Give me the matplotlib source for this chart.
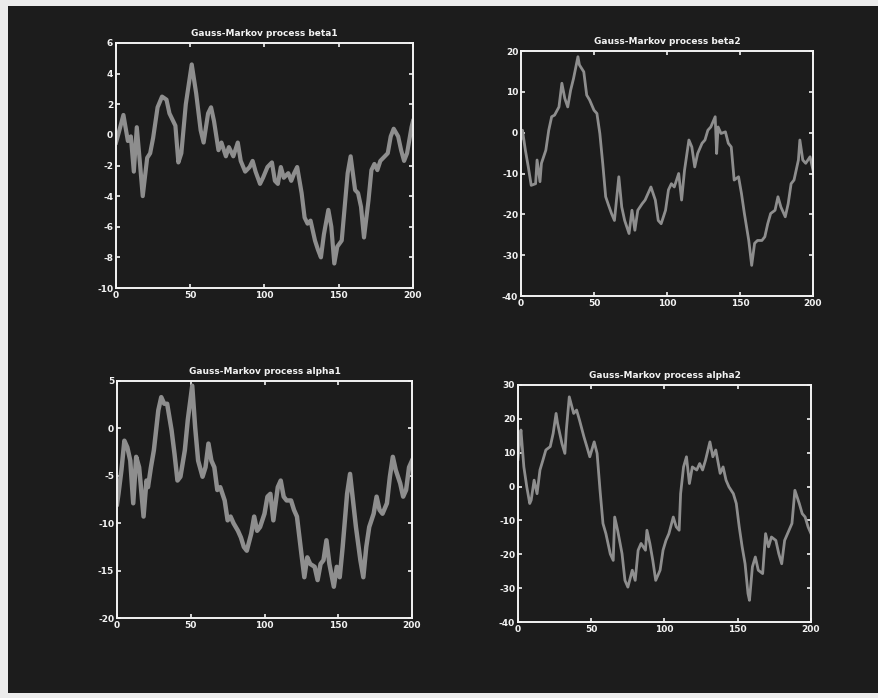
import numpy as np
import matplotlib.pyplot as plt
from matplotlib.patches import Rectangle

plt.rcParams['axes.unicode_minus'] = False

# Gauss-Markov process samples (k = 0..200)
x_beta1 = [0, 2, 5, 8, 10, 12, 14, 16, 18, 21, 23, 25, 28, 31, 34, 36, 40, 42, 44, 47, 51,
           54, 57, 59, 62, 64, 66, 69, 71, 74, 76, 79, 82, 84, 87, 90, 92, 94, 97, 99, 102,
           105, 107, 109, 111, 113, 116, 118, 120, 122, 125, 127, 129, 131, 134, 136, 138,
           140, 143, 145, 147, 149, 152, 154, 156, 158, 161, 163, 165, 167, 170, 172, 174,
           176, 178, 181, 183, 185, 187, 190, 192, 194, 196, 199, 200]
y_beta1 = [-0.5, 0.2, 1.3, -0.4, -0.1, -2.4, 0.5, -1.7, -4.0, -1.5, -1.2, -0.2, 1.8, 2.5,
           2.3, 1.4, 0.6, -1.8, -1.2, 2.0, 4.6, 2.7, 0.3, -0.5, 1.4, 1.8, 0.9, -1.0, -0.5,
           -1.4, -0.8, -1.4, -0.5, -1.7, -2.4, -2.1, -1.7, -2.4, -3.2, -2.8, -2.1, -1.8, -3.0,
           -3.2, -2.1, -2.8, -2.5, -3.0, -2.5, -2.1, -3.8, -5.4, -5.8, -5.6, -6.9, -7.5, -8.0,
           -6.5, -4.9, -6.0, -8.4, -7.3, -6.9, -4.7, -2.5, -1.4, -3.6, -3.8, -4.7, -6.7, -4.3,
           -2.3, -1.9, -2.3, -1.7, -1.4, -1.2, -0.1, 0.4, -0.1, -1.0, -1.7, -1.2, 0.5, 0.9]

x_beta2 = [0, 1, 3, 5, 7, 10, 11, 13, 14, 17, 19, 21, 23, 26, 28, 30, 32, 34, 36, 39, 40,
           43, 45, 47, 50, 52, 54, 56, 58, 60, 62, 64, 67, 69, 71, 74, 76, 78, 80, 83, 85,
           87, 89, 92, 94, 96, 99, 101, 103, 105, 108, 110, 112, 115, 117, 119, 121, 124, 126,
           128, 130, 133, 134, 135, 137, 140, 142, 144, 146, 149, 151, 153, 156, 158, 160,
           162, 165, 167, 169, 171, 174, 176, 178, 181, 183, 185, 187, 190, 191, 193, 195,
           198, 200]
y_beta2 = [-1.5, 0.6, -4.3, -8.4, -12.9, -12.5, -6.7, -12.0, -7.5, -4.3, 0.6, 3.9, 4.3, 6.3,
           12.1, 8.4, 6.3, 10.4, 13.3, 18.6, 16.6, 14.9, 9.2, 8.0, 5.5, 4.7, -0.2, -7.6, -15.7,
           -17.8, -19.8, -21.5, -10.8, -18.2, -21.5, -24.7, -19.0, -23.9, -19.0, -17.4, -16.5,
           -14.9, -13.3, -16.5, -21.5, -22.3, -19.0, -14.0, -12.5, -13.3, -10.0, -16.5, -9.2,
           -1.8, -3.5, -8.4, -5.1, -2.6, -1.8, 0.6, 1.4, 3.9, -5.1, 1.4, -0.2, 0.2, -2.6, -3.5,
           -11.6, -10.8, -14.9, -19.8, -26.4, -32.5, -27.1, -26.4, -26.4, -25.5, -22.3, -19.8,
           -19.0, -15.7, -18.2, -20.6, -17.4, -12.5, -11.6, -6.7, -1.8, -6.7, -7.5, -5.9, -9.2]

x_alpha1 = [0, 1, 3, 5, 7, 9, 11, 13, 15, 16, 18, 20, 21, 23, 25, 28, 30, 32, 34, 37, 39,
            41, 43, 46, 48, 51, 53, 55, 58, 60, 62, 64, 66, 68, 70, 73, 75, 77, 79, 82, 84,
            86, 88, 91, 93, 95, 97, 100, 102, 104, 106, 109, 111, 113, 115, 118, 120, 122,
            125, 127, 129, 131, 134, 136, 138, 140, 142, 144, 147, 149, 151, 153, 156, 158,
            160, 162, 165, 167, 169, 171, 174, 176, 178, 180, 183, 185, 187, 189, 192, 194,
            196, 198, 200]
y_alpha1 = [-8.0, -6.9, -4.4, -1.3, -2.0, -3.4, -7.9, -3.0, -4.1, -5.8, -9.3, -5.5, -6.2,
            -4.1, -2.3, 1.9, 3.3, 2.6, 2.6, -0.2, -2.7, -5.5, -5.1, -2.3, 0.9, 4.5, 0.1, -3.4,
            -5.1, -4.1, -1.6, -3.4, -4.1, -6.5, -6.2, -7.6, -9.7, -9.3, -10.0, -10.8, -11.5,
            -12.5, -12.9, -11.1, -9.3, -10.8, -10.4, -9.0, -7.2, -6.9, -9.7, -6.2, -5.5, -7.2,
            -7.6, -7.6, -8.6, -9.3, -13.2, -15.7, -13.6, -14.3, -14.6, -16.0, -14.3, -13.9,
            -11.8, -14.3, -16.7, -14.6, -15.7, -12.5, -6.9, -4.8, -7.6, -10.4, -13.9, -15.7,
            -12.5, -10.4, -9.0, -7.2, -8.6, -9.0, -7.9, -5.1, -3.0, -4.4, -5.8, -7.2, -6.5,
            -4.1, -3.4]

x_alpha2 = [0, 1, 2, 4, 6, 8, 9, 11, 13, 15, 17, 19, 22, 24, 26, 27, 30, 32, 33, 35, 38,
            40, 42, 45, 47, 49, 52, 54, 56, 58, 60, 63, 65, 66, 68, 71, 73, 75, 78, 80, 82,
            84, 87, 88, 90, 92, 94, 97, 99, 101, 103, 106, 108, 110, 111, 113, 115, 117, 119,
            122, 124, 126, 128, 131, 133, 135, 138, 140, 142, 144, 147, 149, 151, 153, 155,
            157, 158, 160, 162, 164, 167, 169, 171, 173, 176, 178, 180, 182, 185, 187, 189,
            192, 194, 196, 198, 200]
y_alpha2 = [8.0, 12.7, 16.7, 5.8, -0.1, -5.0, -4.0, 1.9, -2.1, 4.9, 7.8, 10.8, 11.8, 15.7,
            21.6, 18.7, 12.7, 9.8, 16.7, 26.5, 21.6, 22.6, 19.6, 14.7, 11.8, 8.8, 13.2, 9.8,
            -1.1, -10.9, -13.9, -19.9, -21.8, -9.0, -12.9, -19.8, -27.7, -29.7, -24.7, -27.7,
            -18.8, -16.8, -18.8, -12.9, -16.8, -21.8, -27.7, -24.7, -18.8, -15.9, -13.9, -9.0,
            -11.9, -12.9, -2.1, 5.8, 8.8, 0.9, 5.8, 4.9, 6.8, 4.9, 7.8, 13.2, 8.8, 10.8, 3.9,
            5.8, 1.9, -0.1, -2.1, -5.0, -11.9, -17.8, -22.8, -31.6, -33.6, -23.7, -20.8, -24.7,
            -25.7, -13.9, -17.8, -14.9, -15.9, -19.8, -22.8, -15.9, -12.9, -10.9, -1.1, -5.0,
            -8.0, -9.0, -11.9, -13.9]

titles = ['Gauss-Markov process beta1', 'Gauss-Markov process beta2',
          'Gauss-Markov process alpha1', 'Gauss-Markov process alpha2']
ylims = [(-10, 6), (-40, 20), (-20, 5), (-40, 30)]
ysteps = [2, 10, 5, 10]

bg = '#1c1c1c'
fg = '#f2f2f2'
trace = '#8e8e8e'

fig = plt.figure(figsize=(8.79, 6.98), dpi=100, facecolor='#ececec')
fig.add_artist(Rectangle((8 / 879, 5 / 698), 1 - 8 / 879, 1 - 11 / 698,
                         transform=fig.transFigure, facecolor=bg, edgecolor='none',
                         zorder=-10))

boxes = [[116 / 879, 1 - 288 / 698, 297 / 879, 245 / 698],
         [521 / 879, 1 - 296 / 698, 292 / 879, 245 / 698],
         [117 / 879, 1 - 618 / 698, 295 / 879, 237 / 698],
         [518 / 879, 1 - 622 / 698, 293 / 879, 237 / 698]]
data = [(x_beta1, y_beta1), (x_beta2, y_beta2), (x_alpha1, y_alpha1), (x_alpha2, y_alpha2)]
widths = [3.0, 2.0, 3.2, 2.0]

for box, (xs, ys), title, ylim, step, lw in zip(boxes, data, titles, ylims, ysteps, widths):
    ax = fig.add_axes(box, facecolor=bg)
    ax.plot(xs, ys, color=trace, linewidth=lw, solid_joinstyle='round')
    ax.set_xlim(0, 200)
    ax.set_ylim(*ylim)
    ax.set_xticks(np.arange(0, 201, 50))
    ax.set_yticks(np.arange(ylim[0], ylim[1] + 0.1, step))
    ax.tick_params(direction='in', length=3, width=1.2, colors=fg, labelsize=6.5,
                   top=True, right=True, pad=2)
    for lab in ax.get_xticklabels() + ax.get_yticklabels():
        lab.set_fontweight('bold')
    for sp in ax.spines.values():
        sp.set_color(fg)
        sp.set_linewidth(1.4)
    ax.set_title(title, color=fg, fontsize=6.5, fontweight='bold', pad=5)

fig.savefig('out.png', dpi=100, facecolor=fig.get_facecolor())
